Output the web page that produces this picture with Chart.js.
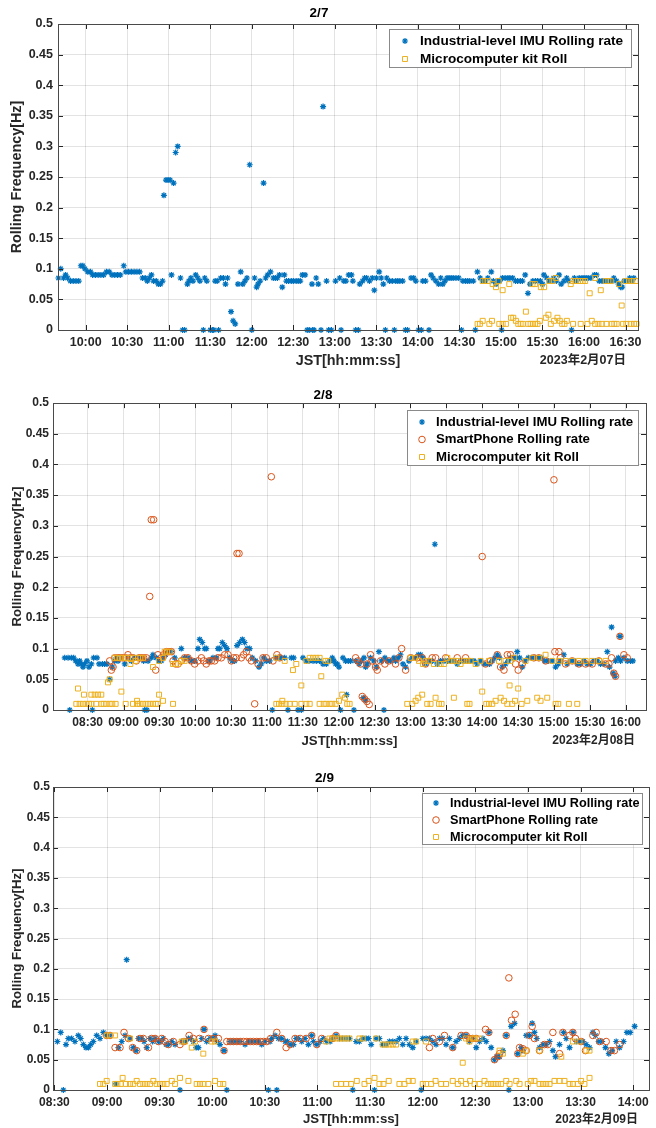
<!DOCTYPE html>
<html><head><meta charset="utf-8">
<script src="https://cdn.jsdelivr.net/npm/chart.js@4.4.0/dist/chart.umd.min.js"></script>
<style>
body{margin:0;background:#fff;width:656px;height:1128px;overflow:hidden;position:relative}
canvas{position:absolute;left:0;display:block}
</style></head>
<body>
<canvas id="c1" width="656" height="372" style="top:0px"></canvas>
<canvas id="c2" width="656" height="378" style="top:372px"></canvas>
<canvas id="c3" width="656" height="378" style="top:750px"></canvas>
<script>
// ---------- tick values (minutes after midnight) ----------
const ticks7 = [600,630,660,690,720,750,780,810,840,870,900,930,960,990];
const ticks8 = [510,540,570,600,630,660,690,720,750,780,810,840,870,900,930,960];
const ticks9 = [510,540,570,600,630,660,690,720,750,780,810,840];
const yTicks = [0,0.05,0.1,0.15,0.2,0.25,0.3,0.35,0.4,0.45,0.5];
const seriesNames = ['Industrial-level IMU Rolling rate','SmartPhone Rolling rate','Microcomputer kit Roll'];
const titles = ['2/7','2/8','2/9'];
const dates = ['2023年2月07日','2023年2月08日','2023年2月09日'];

// ---------- 2/7 ----------
const imu7 = [[580.3,.085],[582,.1],[584,.085],[585.5,.09],[587,.085],[589,.08],[591,.08],[593,.08],[595,.08],[596.5,.105],[598,.105],[599.5,.1],[601.5,.095],[603.5,.095],[605,.09],[607,.09],[609,.09],[611,.09],[613,.09],[615,.095],[617,.095],[619,.09],[621,.09],[623,.09],[625,.09],[627.5,.105],[629,.095],[631,.095],[633,.095],[635,.095],[637,.095],[639,.095],[641,.085],[643,.085],[644.5,.08],[646,.085],[647.5,.09],[649,.08],[651,.08],[652.5,.075],[654,.075],[655.5,.08],[656.5,.22],[658,.245],[659.5,.245],[661,.245],[662,.09],[663.5,.24],[665,.29],[666.5,.3],[668.5,.085],[670,0],[671.5,0],[673.5,.075],[674.5,.08],[676,.085],[677.5,.08],[679.5,.09],[681,.085],[682.5,.08],[685,0],[686,.085],[687.5,.08],[690,0],[691.5,0],[692.5,0],[693.5,.08],[695,.08],[696,0],[697.5,.085],[699.5,.085],[701,.075],[702.5,.085],[705,.03],[706.5,.015],[708,.01],[710,.075],[712,.095],[713.5,.075],[715,.08],[716.5,.085],[718.5,.27],[720,0],[722,.085],[723.5,.07],[724.5,.075],[726,.08],[728.5,.24],[730,.085],[731.5,.09],[733.5,.095],[735.5,.085],[737,.085],[738.5,.085],[740,.09],[742,.07],[743.5,.09],[745,.08],[746.5,.08],[748.5,.08],[750,.08],[752,.08],[753.5,.08],[755,.08],[756.5,.09],[758.5,.09],[760,0],[761.5,0],[763.5,.075],[764,0],[765,0],[766.5,.085],[768,.075],[770,0],[771.5,.365],[774,.08],[775.5,0],
[777.5,0],[780.5,.08],[783.5,.085],[784.5,0],[786.5,.08],[788,.08],[790,.09],[792,.09],[793,.08],[795,0],[797,0],[798,.075],[800,.08],[801.5,.085],[803,.085],[805,.08],[807,.085],[808.5,.065],[810,.085],[812,.095],[813.5,.085],[815,.075],[816.5,0],[817.5,.085],[819.5,.08],[821.5,.08],[823,0],[824,.08],[825.5,.08],[827,.08],[829,.08],[831,0],[832.5,0],[835,.085],[837,.085],[838.5,.08],[840.5,0],[842.5,0],[843.5,.08],[845.5,.08],[848,0],[849.5,.09],[851,.085],[853,.08],[855,.075],[856.5,.085],[858,.075],[859.5,.08],[861,.085],[862.5,.085],[864,.085],[865.5,.085],[867.5,.085],[869.5,.085],[871.5,0],[872.5,.08],[874.5,.08],[876,.08],[877.5,.08],[880,.08],[881.5,0],[883,.095],[885,.085],[887,.08],[888.5,.08],[890.5,.085],[893,.095],[894.5,.08],[896.5,.075],[897.5,.08],[899,.08],[900.5,0],[901,.085],[903,.085],[905,.085],[906.5,.085],[908.5,.085],[910.5,.08],[912,.08],[914,.08],[915.5,.08],[917.5,.09],[919.5,.06],[921,.075],[923,.08],[925,.08],[926.5,.08],[928.5,.08],[930,.075],[931,.09],[933,.085],[935,.08],[936.5,.08],[938,.085],[940,.08],[942,.09],[943.5,.075],[945.5,.08],[947.5,.085],[949,.08],[951,0],[953,.085],[954.5,.08],[956.5,.085],[958.5,.085],[960,.085],[961.5,.085],[963,.085],[965,.085],[967.5,.09],[969,.09],[971,.08],[973,.08],[974.5,.08],[976,.08],[978,.08],[980,.08],[981.5,.085],[983.5,.08],[985,.075],[986.5,.07],[987.5,.07],[989,.08],[991,.08],[993,.085],[994.5,.08],[996,.085]];
const mk7 = [[886.8,.08],[888.7,.08],[890.4,.08],[894,.075],[896.4,.07],[898.3,.08],[901.2,.065],[906,.075],[922.8,.075],[924.7,.075],[928.8,.07],[931.2,.07],[934.8,.08],[937.2,.08],[939.6,.085],[950.4,.075],[952.1,.08],[954,.08],[955.7,.08],[957.4,.08],[959.1,.08],[960.8,.08],[964.1,.06],[968,.085],[972.1,.065],[975.7,.08],[977.6,.08],[979.3,.08],[985.3,.075],[987.2,.04],[990.1,.08],[992.5,.08],[994.9,.08],[997.3,.08],
[883.1,.01],[884.8,.01],[886.8,.015],[891.6,.01],[893.5,.015],[898.8,.01],[901.2,.01],[903.6,.01],[907.2,.02],[908.9,.02],[910.8,.015],[912.5,.01],[914.2,.01],[915.8,.01],[918,.03],[919.7,.01],[921.4,.01],[923,.01],[924.7,.01],[926.4,.01],[928.1,.015],[932.4,.02],[934.3,.025],[936,.01],[938.4,.015],[940.8,.02],[942.5,.015],[944.2,.01],[945.9,.01],[947.6,.015],[952.1,.01],[957.6,.01],[962.5,.01],[965.6,.015],[968,.01],[970.4,.01],[972.8,.01],[976.2,.01],[980,.01],[981.9,.01],[983.6,.01],[988.2,.01],[990.6,.01],[993.7,.01],[996.1,.01],[998,.01]];

// ---------- 2/8 ----------
const imu8 = [[490.8,.085],[493.6,.085],[495,0],[496.3,.085],[498.3,.085],[500,.08],[501.9,.075],[503.3,.08],[504.7,.075],[506.1,.07],[507.5,.075],[509.4,.08],[511.1,.07],[513.1,.075],[513.9,0],[515,.085],[517.8,.085],[519.5,.075],[522.3,.075],[524.2,.075],[526.2,.075],[528.4,.05],[530.6,.07],[532.6,.08],[534,.085],[535.4,.08],[538.2,.085],[541,.075],[543.7,.085],[546.5,.08],[549.3,.085],[552.9,.085],[554.9,.085],[556.8,.08],[557.7,0],[559.6,0],[560.5,.08],[563.2,.085],[564.6,.09],[567.4,.085],[569.7,.08],[571.6,.08],[573.6,.085],[575.2,.09],[577.2,.095],[580,.095],[582.8,.085],[588.3,.1],[591.1,.085],[593.9,.085],[596.7,.08],[599.5,.08],[602.3,.1],[603.7,.115],[605.9,.11],[607.9,.1],[609.2,.1],[611.5,.08],[614.8,.085],[617.6,.085],[619,.1],[620.4,.1],[622.6,.11],[624.6,.105],[626.5,.1],[628.8,.085],[631,.08],[632.9,.08],[634.9,.105],[637.1,.11],[639.4,.115],[641.3,.11],[643.3,.1],[645.5,.1],[647.7,.085],[650.5,.08],[653.3,.07],[655.2,.075],[657.2,.085],[659.4,.08],[662.2,.08],[664.4,0],[667.2,.085],[670,.085],[672,.085],[674.8,.085],[677.5,0],[680.3,.085],[682.3,.085],[685.9,0],[688.7,0],[690.1,.085],[692.9,.08],[695.1,.08],[698.5,.08],[701.2,.08],[704,.08],[706.8,.075],[709.6,.075],[712.4,.08],[714.6,.085],[716,.08],[717.4,.075],[718.8,.075],[720.2,.07],[721.5,0],[723.5,.085],[725.7,.08],[726.5,.025],[728,.08],[729.9,.08],[732.7,0],[734.1,.08],[736.9,.075],[739.1,.08],[740.5,.02],[741.1,.085],[742.4,.016],[742.5,.07],[743.8,.075],[746.6,.085],[749.4,.08],[751.4,.07],[753.6,.095],[755.8,.08],[757.8,0],[758.6,.085],[760.6,.08],[763.4,.08],[766.2,.085],[767.5,.08],[769.8,.085],[771.7,.09],[773.7,.075],[775.9,.07],[778.7,.08],[781.5,.085],[784.3,.085],[786.5,.09],[788.5,.09],[790.4,.085],[792.6,.075],[795.4,.08],[798.2,.08],[800.4,.27],[802.4,.075],[805.2,.08],[808,.08],[810.8,.08],[813.5,.08],[816.3,.08],[819.1,.075],[821.9,.08],[824.7,.08],[827.5,.08],[830.3,.08],[833.1,.08],[835.8,.075],[838.6,.08],[841.4,.075],[844.2,.075],[846.2,.075],[848.4,.08],[850.6,.085],[852.6,.09],[854.5,.085],[856.8,.07],[859.5,.075],[861.8,.08],[863.7,.085],[865.7,.085],[867.9,.085],[869.3,.095],[871.3,.085],[873.5,.07],[875.7,.08],[878.5,.085],[881.3,.085],[884.1,.085],[886.9,.085],[889.7,.085],[892.4,.08],[895.2,.08],[898.6,.08],[901.4,.07],[903.6,.075],[905.5,.08],[908.3,.09],[911.1,.075],[913.9,.08],[916.7,.08],[919.5,.075],[922.3,.075],[925.1,.08],[927.8,.075],[930.6,.075],[933.4,.08],[936.2,.08],[939,.075],[941.8,.075],[944.6,.095],[946.5,.07],[948.2,.135],[949.6,.06],[951.2,.055],[951.5,.08],[953.8,.085],[955.2,.12],[955.7,.08],[958.5,.085],[961.3,.08],[964.1,.08],[966,.08]];
const sp8 = [[528.4,.08],[529.8,.065],[531.2,.07],[532.6,.085],[535.4,.085],[537.3,.085],[539.6,.085],[541.8,.085],[543.7,.09],[545.7,.085],[547.9,.085],[550.7,.08],[552.9,.085],[554.9,.085],[556.8,.085],[559.1,.085],[561.9,.185],[563.2,.31],[565.2,.31],[566.9,.065],[568.8,.09],[571.6,.085],[573.6,.09],[575.8,.095],[578,.095],[580,.095],[581.4,.08],[583.6,.075],[585.6,.075],[588.3,.08],[591.1,.085],[593.9,.085],[596.7,.08],[599.5,.075],[602.3,.08],[605.1,.085],[607,.08],[609.2,.075],[611.5,.08],[613.4,.08],[616.2,.08],[619,.085],[621.8,.085],[624.6,.09],[627.4,.09],[630.2,.08],[632.1,.085],[634.3,.085],[634.9,.255],[636.6,.255],[638.5,.085],[640.5,.09],[642.7,.095],[645,.085],[646.9,.08],[649.7,.01],[652.5,.075],[656.6,.085],[659.4,.085],[663.6,.38],[665,.08],[668.3,.09],[670.6,.085],
[734.1,.085],[736.3,.08],[738.3,.075],[739.7,.022],[741.6,.018],[743.6,.014],[745.5,.009],[743.8,.075],[746.6,.09],[748,.08],[750.8,.07],[752.2,.065],[755,.08],[758.6,.075],[762,.08],[767.5,.075],[770.3,.085],[772.6,.1],[775.9,.065],[780.1,.085],[785.7,.085],[789.8,.085],[792.6,.075],[798.2,.085],[801,.085],[809.4,.085],[819.1,.085],[826.1,.085],[840,.25],[842.8,.075],[847,.08],[852.6,.09],[855.4,.07],[858.2,.065],[861,.09],[863.7,.09],[867.9,.075],[870.1,.065],[873.5,.075],[883.2,.085],[887.4,.085],[893,.08],[900,.375],[900.8,.095],[904.2,.095],[905.5,.085],[909.7,.075],[915.3,.08],[920.9,.075],[926.5,.075],[932,.075],[937.6,.08],[943.2,.075],[946,.075],[948.2,.085],[950.1,.06],[951.5,.055],[955.2,.12],[958.5,.09],[961.3,.085]];
const mk8 = [[500.5,.01],[503.3,.01],[506.1,.01],[508.9,.01],[511.1,.01],[513.1,.01],[517.2,.01],[521.4,.01],[523.4,.01],[525.6,.01],[528.4,.01],[530.6,.01],[533.4,.01],[541.8,.01],[547.9,.01],[551.3,.01],[553.5,.01],[556.3,.01],[559.1,.01],[561.9,.01],[564.6,.01],[566.9,.01],[568.8,.01],[581.4,.01],
[501.9,.035],[506.9,.025],[513.1,.025],[515.9,.025],[518.6,.025],[521.4,.025],[538.2,.03],[551.3,.015],[569.7,.025],[573,.015],[527,.045],[528.4,.05],
[532.6,.085],[534.5,.085],[536.8,.085],[539.6,.085],[541.8,.085],[543.7,.085],[545.7,.075],[547.9,.085],[550.1,.08],[552.1,.085],[554,.085],[556.3,.085],[564.6,.07],[569.7,.08],[573,.085],[574.4,.095],[576.4,.095],[578.6,.095],[581.4,.075],[583.6,.075],[585.6,.075],[588.3,.08],[591.1,.08],
[667.8,.01],[670,.01],[672.8,.01],[675.6,.01],[679,.01],[683.2,.01],[688.7,.01],[692.9,.01],[695.7,.01],[704,.01],[707.4,.01],[709.6,.01],[712.4,.01],[714.6,.01],[717.4,.01],[720.2,.015],[722.9,.025],[725.2,.02],[727.1,.01],[729.1,.01],
[672.8,.015],[681.7,.065],[688.7,.04],[705.4,.055],[667.8,.085],[674.8,.08],[684.5,.075],[692.9,.08],[695.7,.085],[698.5,.085],[701.2,.085],[704,.085],[709,.08],[711.2,.08],
[777.3,.01],[781.5,.01],[784.3,.015],[786.5,.02],[789.8,.025],[794,.01],[796.8,.01],[801,.02],[803.8,.01],[806,.01],[816.3,.02],[827.5,.01],[829.4,.01],[840,.03],[843.4,.01],[845.6,.01],[848.4,.01],[851.2,.015],[855.4,.02],[858.2,.015],[861,.01],[862.9,.04],[865.1,.01],[867.4,.015],[870.1,.035],[872.9,.01],[877.7,.015],[886,.02],[888.8,.015],[894.4,.02],[901.4,.01],[903.6,.01],[912.5,.01],[919.5,.01],
[780.1,.085],[783.7,.085],[787.1,.08],[790.4,.075],[792.6,.08],[795.4,.08],[799.6,.075],[805.2,.075],[808,.075],[810.8,.085],[813.5,.08],[816.3,.08],[819.1,.08],[821.9,.075],[824.7,.08],[827.5,.08],[830.3,.08],[834.5,.075],[838.6,.08],[845.6,.08],[854,.08],[859.5,.08],[863.7,.08],[866.5,.085],[876.3,.08],[881.8,.085],[887.4,.085],[893,.09],[898.6,.08],[904.2,.08],[909.7,.08],[915.3,.08],[920.9,.08],[926.5,.08],[932,.08],[937.6,.08],[943.2,.08]];

// ---------- 2/9 ----------
const imu9 = [[511.7,.08],[513.6,.095],[515.1,0],[516.6,.075],[517.9,.085],[519.8,.085],[521.7,.08],[523.6,.09],[525,.085],[526.5,.075],[528,.07],[529.4,.07],[530.7,.075],[532.2,.08],[534.1,.09],[536,.085],[537.9,.095],[539.8,.09],[541.7,.09],[545.1,.01],[546.5,.07],[548.4,.08],[550.3,.09],[551.2,.215],[553.1,.085],[555,.07],[556.5,.065],[557.9,.085],[559.8,.085],[561.1,.08],[562.6,.07],[564.5,.085],[566,.08],[567.4,.085],[569.3,.08],[570.8,.08],[572.1,.085],[573.7,.075],[575,.075],[576.9,.08],[578.8,.075],[581.6,0],[582.6,.08],[584.5,.08],[586.4,.085],[587.7,.085],[589.2,.08],[590.8,.07],[592.1,.07],[594,.085],[595.3,.1],[596.8,.08],[598.7,.085],[600.3,.085],[601.6,.09],[602.9,.08],[604.4,.075],[606.7,.065],[608.3,0],[610.2,.08],[612.1,.08],[614,.08],[615.9,.08],[618.7,.075],[620.6,.08],[622.5,.08],[624.4,.08],[626.3,.08],[628.2,.075],[630.1,.08],[632,0],[633,.08],[633.9,.085],[635.8,.09],[636.8,0],[637.7,.085],[639.6,.085],[641.5,.08],[642.9,.08],[644.4,.075],[646.3,.075],[647.8,.085],[649.1,.085],[651,.08],[652.9,.085],[654.8,.075],[656.7,.09],[657.7,.08],[659.6,.075],[661.5,.08],[663.4,.085],[665.3,.08],[667.2,.08],
[668.7,.085],[670.6,.09],[672.5,.085],[674.4,.085],[676.3,.085],[678.2,.085],[680.1,0],[682,.08],[683.9,.08],[685.8,.085],[687.7,.085],[689.2,.085],[690.6,.075],[692.5,0],[693.4,.085],[695.3,.085],[697.2,.075],[699.1,.075],[701,.08],[702.9,.08],[704.8,.08],[706.7,.085],[708.6,.075],[710.5,.085],[712.4,.075],[714.3,.07],[716.2,.08],[719.1,0],[720,.085],[721.9,.085],[723.8,.085],[725.7,.08],[727.6,.075],[729.5,.085],[731.4,.085],[733.3,.075],[735.2,.085],[737.1,.07],[739,.08],[740.9,.085],[742.8,.09],[744.7,.09],[746.6,.08],[748.5,.085],[750.5,.07],[752.4,.08],[754.3,.085],[756.2,.08],[757.7,.095],[759,.07],[760.9,.05],[762.2,.055],[763.8,.055],[765.7,.065],[767.6,.09],[769.1,0],[770.4,.105],[772.3,.11],[774.2,.06],[776.1,.07],[777.1,.065],[779,.09],[780.9,.09],[782.4,.11],[783.7,.095],[785,.085],[786.6,.07],[788.5,.075],[790.4,.075],[792.3,.08],[794.2,.065],[795.7,.055],[798,.075],[800.3,.095],[801.8,.085],[803.7,.07],[805.6,.095],[807.5,.08],[809.4,.08],[811.3,.08],[813.2,.075],[815.1,.07],[817,.095],[818.5,.09],[820.4,.08],[822.3,.08],[824.2,.07],[826.1,.06],[828,.065],[830.3,.08],[832.2,.07],[834.5,.08],[836.4,.095],[838.3,.095],[840.8,.105]];
const sp9 = [[539.8,.09],[541.7,.09],[544.6,.07],[547.4,.07],[549.7,.095],[552.2,.085],[554.6,.07],[556.9,.065],[558.8,.085],[560.7,.085],[563.6,.07],[565.5,.085],[567.4,.085],[569.3,.08],[571.2,.085],[573.1,.08],[575,.075],[577.8,.08],[581.6,.075],[583.9,.08],[586.8,.09],[589.2,.085],[592.7,.085],[595.3,.1],[597.8,.085],[600.6,.085],[603.5,.085],[606.7,.065],[608.3,.08],[610.2,.08],[612.1,.08],[614,.08],[615.9,.08],[617.8,.08],[619.7,.08],[621.6,.08],[623.5,.08],[625.4,.08],[627.3,.08],[629.2,.08],[631.1,.08],[633.3,.085],[636.8,.095],[639.6,.085],[642.1,.07],[644.4,.075],[647.2,.085],[650.1,.085],[653.5,.085],[656.7,.09],[659.6,.075],[662.4,.085],
[668.7,.085],[670.6,.09],[723.8,.07],[725.7,.085],[729.5,.08],[732.4,.09],[737.1,.07],[741.9,.09],[744.7,.09],[746.6,.085],[748.5,.085],[750.5,.085],[755.8,.1],[757.7,.095],[760.9,.05],[762.8,.055],[763.8,.06],[767.6,.09],[769.1,.185],[770.6,.115],[772.7,.125],[774.2,.06],[775.2,.07],[777.1,.068],[779,.065],[780.9,.09],[782.4,.105],[783.7,.085],[786.6,.065],[789.4,.075],[791.3,.075],[794.2,.095],[798,.06],[799.9,.095],[803.7,.09],[805.6,.095],[807.1,.085],[810.3,.08],[812.8,.065],[817,.09],[818.9,.095],[820.8,.08],[824.6,.08],[827.4,.065],[829.3,.065],[832.2,.075]];
const mk9 = [[536,.01],[537.9,.01],[539.8,.015],[544.6,.01],[545.9,.01],[547.8,.01],[548.9,.02],[550.8,.01],[553.1,.01],[555,.01],[556.9,.015],[558.8,.01],[560.7,.01],[562.6,.01],[564.5,.01],[566.4,.015],[568.3,.01],[570.2,.01],[572.1,.01],[574,.01],[576.9,.015],[578.8,.01],[581.6,.02],[586.4,.015],[591.1,.01],[593,.01],[594.9,.01],[597.8,.01],[601.6,.015],[604.4,.01],[606.3,.01],
[539.8,.09],[541.7,.09],[544.6,.09],[553.1,.085],[582.6,.08],[584.5,.08],[588.3,.07],[590.2,.08],[594.9,.06],[599.7,.08],[601.6,.08],
[670.6,.01],[673.5,.01],[676.3,.01],[679.2,.01],[682.4,.015],[686.8,.01],[689.2,.015],[692.5,.02],[695.3,.01],[697.6,.01],[700.6,.015],[706.7,.01],[709.6,.01],[712,.015],[714.3,.015],[720,.01],[721.9,.01],[724.8,.01],[727.3,.015],[730.5,.01],[733.3,.01],[737.1,.015],[740,.01],[741.9,.015],[744.7,.01],[747,.015],[749.5,.01],[752.4,.01],[755.2,.015],[757.1,.01],[759,.01],[760.9,.01],[762.8,.01],[764.7,.01],[767.6,.015],[769.5,.01],[773.3,.015],[775.2,.01],[779.9,.01],[781.8,.015],[783.7,.015],[786.6,.01],[788.5,.01],[790.4,.01],[792.3,.01],[795.1,.015],[798,.015],[800.8,.015],[803.7,.01],[805.6,.01],[808.4,.01],[810.3,.015],[812.2,.01],[815.1,.02],
[664.9,.08],[666.8,.085],[668.7,.085],[670.6,.085],[672.5,.085],[674.4,.085],[676.3,.085],[678.2,.085],[683.9,.085],[685.8,.085],[693.4,.085],[697.2,.075],[699.1,.075],[701,.075],[702.9,.075],[704.8,.075],[714.3,.08],[716.2,.08],[721.9,.08],[742.8,.045],[744.7,.085],[746.6,.08],[748.5,.085],[749.5,.085],[752.4,.085],[763.8,.065],[765.7,.06],[777.1,.06],[779,.065],[786.6,.065],[799,.055],[805.6,.08],[809.4,.08],[813.2,.065],[815.1,.065]];

// ---------- rendering ----------
const FONT = '"Liberation Sans", Arial, Helvetica, "Noto Sans CJK JP", sans-serif';
Chart.defaults.font.family = FONT;
Chart.defaults.font.weight = 'bold';
Chart.defaults.color = '#262626';
const COLORS = ['#0072BD', '#D95319', '#EDB120'];
const STYLES = [
  {pointStyle: 'star', radius: 3, borderWidth: 1.2, fill: '#0072BD'},
  {pointStyle: 'circle', radius: 3.3, borderWidth: 1, fill: 'rgba(0,0,0,0)'},
  {pointStyle: 'rect', radius: 3.5, borderWidth: 1, fill: 'rgba(0,0,0,0)'}
];
const toXY = arr => arr.map(p => ({x: p[0], y: p[1]}));
const fmtTime = v => String(Math.floor(v / 60)).padStart(2, '0') + ':' + String(Math.round(v % 60)).padStart(2, '0');

const panels = [
  {id: 'c1', h: 372, area: {l: 58, t: 24, r: 638, b: 330}, xmin: 580, xmax: 999, ticks: ticks7,
   series: [[0, imu7], [2, mk7]], titleSize: 13.5, titlePad: {top: 4.9, bottom: 2.9},
   tickSize: 12.5, axisSize: 14.4, xTitlePad: 2.4, yTitlePad: 8.4, xTickPad: 5.5, yTickPad: 5,
   legend: {x: 389, y: 29, w: 243, h: 39, row0: 41, rowH: 18, mx: 405, tx: 420, size: 13.6},
   date: {x: 626, y: 361, size: 12.5}},
  {id: 'c2', h: 378, area: {l: 53, t: 31, r: 646, b: 338}, xmin: 481, xmax: 977, ticks: ticks8,
   series: [[0, imu8], [1, sp8], [2, mk8]], titleSize: 13.5, titlePad: {top: 14.9, bottom: 0},
   tickSize: 12, axisSize: 13.2, xTitlePad: 1.1, yTitlePad: 9.1, xTickPad: 5.8, yTickPad: 4,
   legend: {x: 407, y: 38, w: 232, h: 56, row0: 50, rowH: 17.5, mx: 422, tx: 436, size: 13.2},
   date: {x: 635, y: 369, size: 12}},
  {id: 'c3', h: 378, area: {l: 53, t: 37, r: 649, b: 340}, xmin: 509.2, xmax: 849, ticks: ticks9,
   series: [[0, imu9], [1, sp9], [2, mk9]], titleSize: 13.5, titlePad: {top: 19.9, bottom: 0.9},
   tickSize: 12, axisSize: 13.2, xTitlePad: 0.6, yTitlePad: 9.1, xTickPad: 5.8, yTickPad: 3,
   legend: {x: 422, y: 43, w: 221, h: 52, row0: 53, rowH: 17, mx: 436, tx: 450, size: 12.7},
   date: {x: 638, y: 370, size: 12}}
];

function drawMarker(ctx, k, x, y) {
  const s = STYLES[k];
  ctx.save();
  ctx.strokeStyle = COLORS[k];
  ctx.fillStyle = s.fill;
  ctx.lineWidth = s.borderWidth;
  Chart.helpers.drawPoint(ctx, {pointStyle: s.pointStyle, radius: s.radius, borderWidth: s.borderWidth, rotation: 0}, x, y);
  ctx.restore();
}

const decorPlugin = {
  id: 'decor',
  afterDatasetsDraw(chart, args, o) {
    const ctx = chart.ctx, L = o.legend;
    ctx.save();
    ctx.fillStyle = '#ffffff';
    ctx.fillRect(L.x, L.y, L.w, L.h);
    ctx.strokeStyle = '#8a8a8a';
    ctx.lineWidth = 1;
    ctx.strokeRect(L.x + 0.5, L.y + 0.5, L.w - 1, L.h - 1);
    ctx.font = 'bold ' + L.size + 'px ' + FONT;
    ctx.textBaseline = 'middle';
    ctx.textAlign = 'left';
    o.keys.forEach((k, i) => {
      const yy = L.row0 + i * L.rowH;
      drawMarker(ctx, k, L.mx, yy);
      ctx.fillStyle = '#000';
      ctx.fillText(seriesNames[k], L.tx, yy);
    });
    ctx.restore();
  },
  afterDraw(chart, args, o) {
    const {ctx, chartArea: a, scales: {x, y}} = chart;
    ctx.save();
    ctx.strokeStyle = '#262626';
    ctx.lineWidth = 1;
    ctx.beginPath();
    x.ticks.forEach(t => {
      const px = Math.round(x.getPixelForValue(t.value)) + 0.5;
      ctx.moveTo(px, a.bottom); ctx.lineTo(px, a.bottom - 5);
      ctx.moveTo(px, a.top); ctx.lineTo(px, a.top + 5);
    });
    y.ticks.forEach(t => {
      const py = Math.round(y.getPixelForValue(t.value)) + 0.5;
      ctx.moveTo(a.left, py); ctx.lineTo(a.left + 5, py);
      ctx.moveTo(a.right, py); ctx.lineTo(a.right - 5, py);
    });
    ctx.stroke();
    ctx.strokeStyle = '#4a4a4a';
    ctx.strokeRect(Math.round(a.left) + 0.5, Math.round(a.top) + 0.5, Math.round(a.right - a.left), Math.round(a.bottom - a.top));
    ctx.fillStyle = '#262626';
    ctx.font = 'bold ' + o.date.size + 'px ' + FONT;
    ctx.textAlign = 'right';
    ctx.textBaseline = 'middle';
    ctx.fillText(o.dateText, o.date.x, o.date.y);
    ctx.restore();
  }
};

panels.forEach((p, idx) => {
  const datasets = p.series.map(([k, arr]) => ({
    label: seriesNames[k],
    data: toXY(arr),
    showLine: false,
    pointStyle: STYLES[k].pointStyle,
    pointRadius: STYLES[k].radius,
    pointBorderWidth: STYLES[k].borderWidth,
    borderColor: COLORS[k],
    backgroundColor: STYLES[k].fill,
    pointBackgroundColor: STYLES[k].fill,
    pointBorderColor: COLORS[k],
    pointHoverRadius: STYLES[k].radius,
    clip: false,
    order: 2 - k
  }));
  new Chart(document.getElementById(p.id), {
    type: 'scatter',
    data: {datasets},
    plugins: [decorPlugin],
    options: {
      responsive: false,
      animation: false,
      events: [],
      layout: {padding: {left: 0, right: 656 - p.area.r, top: 0, bottom: 0}},
      plugins: {
        legend: {display: false},
        tooltip: {enabled: false},
        title: {display: true, text: titles[idx], color: '#000', font: {size: p.titleSize, weight: 'bold'}, padding: p.titlePad},
        decor: {legend: p.legend, keys: p.series.map(s => s[0]), date: p.date, dateText: dates[idx]}
      },
      scales: {
        x: {
          type: 'linear', min: p.xmin, max: p.xmax,
          afterBuildTicks: s => { s.ticks = p.ticks.map(v => ({value: v})); },
          afterFit: s => { s.height = p.h - p.area.b; },
          ticks: {autoSkip: false, maxRotation: 0, minRotation: 0, padding: p.xTickPad, color: '#262626',
                  font: {size: p.tickSize, weight: 'bold'}, callback: v => fmtTime(v)},
          grid: {color: 'rgba(38,38,38,0.13)', lineWidth: 1, drawTicks: false},
          border: {display: false},
          title: {display: true, text: 'JST[hh:mm:ss]', color: '#262626', font: {size: p.axisSize, weight: 'bold'},
                  padding: {top: 0, bottom: p.xTitlePad}}
        },
        y: {
          type: 'linear', min: 0, max: 0.5,
          afterBuildTicks: s => { s.ticks = yTicks.map(v => ({value: v})); },
          afterFit: s => { s.width = p.area.l; },
          ticks: {padding: p.yTickPad, color: '#262626', font: {size: p.tickSize, weight: 'bold'},
                  callback: v => String(+v.toFixed(2))},
          grid: {color: 'rgba(38,38,38,0.13)', lineWidth: 1, drawTicks: false},
          border: {display: false},
          title: {display: true, text: 'Rolling Frequency[Hz]', color: '#262626', font: {size: p.axisSize, weight: 'bold'},
                  padding: {top: p.yTitlePad, bottom: 0}}
        }
      }
    }
  });
});
</script>
</body></html>
